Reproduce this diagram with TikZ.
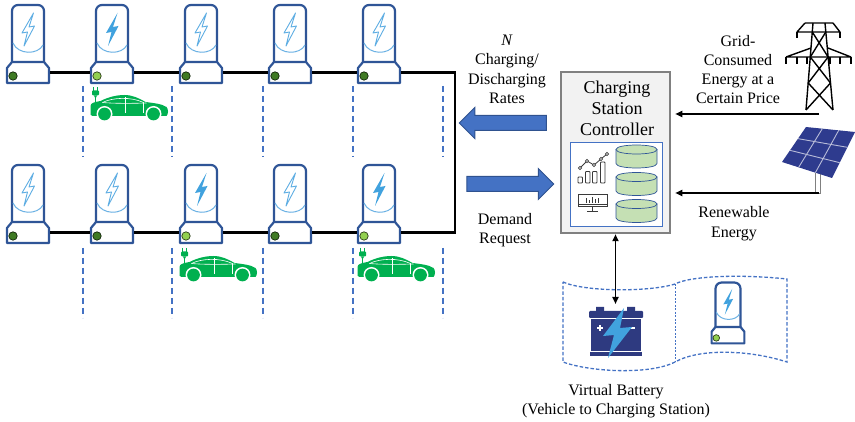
\documentclass[tikz,border=0pt]{standalone}
\usepackage{fontspec}
\setmainfont{Liberation Serif}
\usetikzlibrary{arrows.meta,shapes.arrows,calc}

\definecolor{stblue}{HTML}{2F5597}
\definecolor{boltblue}{HTML}{41A2DE}
\definecolor{boltlight}{HTML}{5FAEE3}
\definecolor{arcblue}{HTML}{6CB2E4}
\definecolor{dotdark}{HTML}{3F7A24}
\definecolor{dotlight}{HTML}{92D050}
\definecolor{cargreen}{HTML}{00B050}
\definecolor{dashblue}{HTML}{4472C4}
\definecolor{arrowfill}{HTML}{4472C4}
\definecolor{arrowedge}{HTML}{2F528F}
\definecolor{ctrlgray}{HTML}{808080}
\definecolor{ctrlfill}{HTML}{F2F2F2}
\definecolor{cylgreen}{HTML}{C5E0B4}
\definecolor{batnavy}{HTML}{2E3A80}
\definecolor{panelblue}{HTML}{2E3B8E}
\definecolor{panelgrid}{HTML}{B8BCD8}
\definecolor{icongray}{HTML}{3A3A3A}

\tikzset{
  stationline/.style={draw=stblue, line width=2.2pt, line join=round},
  boltactive/.style={fill=boltblue},
  boltidle/.style={draw=boltlight, line width=0.9pt, line join=round},
  gapline/.style={dashblue, line width=1.3pt, dash pattern=on 6pt off 4pt},
  wire/.style={black, line width=2.1pt},
  feed/.style={black, line width=1.8pt, -{Triangle[length=7pt,width=6pt]}},
  lbl/.style={align=center, font=\fontsize{16}{19.5}\selectfont, inner sep=0pt},
  blockarrow/.style={single arrow, draw=arrowedge, fill=arrowfill, line width=1pt,
    minimum height=87pt, inner xsep=0pt, inner ysep=7pt,
    single arrow head extend=8pt},
  towerline/.style={black, line width=1.4pt, line join=round},
  iconline/.style={icongray, line width=0.8pt},
  cylinder part/.style={draw=stblue, line width=0.7pt, fill=cylgreen},
  % charging post: origin = centre of the base top edge
  pics/evstation/.style 2 args={code={
    \draw[stationline, fill=white, rounded corners=6pt]
      (-16,1) -- (-16,-57) -- (16,-57) -- (16,1);
    \draw[arcblue, line width=1pt] (-15,-19) .. controls (-10,-7) and (10,-7) .. (15,-17);
    \path[#1] (5.5,-49) -- (-6,-29) -- (-0.5,-30) -- (-4,-16) -- (6.5,-36) -- (1,-35) -- cycle;
    \draw[stationline, fill=white]
      (-21,21) -- (-21,6) -- (-16,0) -- (16,0) -- (21,6) -- (21,21) -- cycle;
    \draw[fill=#2, draw=black!70!#2, line width=0.7pt] (-15,14) circle (4.2);
    \coordinate (-hub) at (0,10.5);
  }},
  % electric car with its plug: origin = top left of the plug
  pics/evcar/.style={code={
    \draw[cargreen, line width=1.3pt] (3,0) -- (3,4) (7,0) -- (7,4);
    \fill[cargreen, rounded corners=1pt] (1.5,3.5) rectangle (8.5,8.5);
    \fill[cargreen] (3.5,8.5) -- (6.5,8.5) -- (5.7,10.5) -- (4.3,10.5) -- cycle;
    \draw[cargreen, line width=1.4pt] (5,10) -- (5,20);
    \fill[cargreen] (0,19) .. controls (0,16) and (4,15) .. (10,14)
      .. controls (18,10) and (26,8) .. (34,8)
      .. controls (42,8) and (48,11) .. (55,15)
      .. controls (63,16) and (72,17) .. (76,20)
      .. controls (78,22) and (78,27) .. (76,29)
      -- (2,29) .. controls (0,28) .. (0,26) -- cycle;
    \draw[white, line width=0.6pt] (12,15.5) .. controls (22,10.5) and (40,9.5) .. (53,15.5) -- (53,26);
    \draw[white, line width=0.6pt] (12,15.5) .. controls (22,16.5) and (40,16.5) .. (56,16);
    \draw[white, line width=0.6pt] (35,10) -- (35,26);
    \fill[white] (14,27) circle (8) (63,27) circle (8);
    \fill[cargreen] (14,27) circle (6.4) (63,27) circle (6.4);
  }}
}

\begin{document}
\begin{tikzpicture}[x=1pt, y=-1pt]
\useasboundingbox (0,0) rectangle (855,422);

% corners of the feeder loop
\coordinate (turnTop) at (455,72.5);
\coordinate (turnBot) at (455,232.5);

% parking bay separators
\foreach \x in {83,172,263,353,443} {
  \draw[gapline] (\x,86) -- (\x,157);
  \draw[gapline] (\x,248) -- (\x,318);
}

% ---------- upper row of posts ----------
\pic (t1) at (28,62)  {evstation={boltidle}{dotdark}};
\pic (t2) at (112,62) {evstation={boltactive}{dotlight}};
\pic (t3) at (201,62) {evstation={boltidle}{dotdark}};
\pic (t4) at (290,62) {evstation={boltidle}{dotdark}};
\pic (t5) at (379,62) {evstation={boltidle}{dotdark}};

% ---------- lower row of posts ----------
\pic (b1) at (28,222)  {evstation={boltidle}{dotdark}};
\pic (b2) at (112,222) {evstation={boltidle}{dotdark}};
\pic (b3) at (201,222) {evstation={boltactive}{dotlight}};
\pic (b4) at (290,222) {evstation={boltidle}{dotdark}};
\pic (b5) at (379,222) {evstation={boltactive}{dotlight}};

% wires between the bases of neighbouring posts
\draw[wire] ($(t1-hub)+(22,0)$) -- ($(t2-hub)+(-22,0)$);
\draw[wire] ($(t2-hub)+(22,0)$) -- ($(t3-hub)+(-22,0)$);
\draw[wire] ($(t3-hub)+(22,0)$) -- ($(t4-hub)+(-22,0)$);
\draw[wire] ($(t4-hub)+(22,0)$) -- ($(t5-hub)+(-22,0)$);
\draw[wire, line join=miter] ($(t5-hub)+(22,0)$) -- (turnTop) -- (turnBot) -- ($(b5-hub)+(22,0)$);
\draw[wire] ($(b5-hub)+(-22,0)$) -- ($(b4-hub)+(22,0)$);
\draw[wire] ($(b4-hub)+(-22,0)$) -- ($(b3-hub)+(22,0)$);
\draw[wire] ($(b3-hub)+(-22,0)$) -- ($(b2-hub)+(22,0)$);
\draw[wire] ($(b2-hub)+(-22,0)$) -- ($(b1-hub)+(22,0)$);

% ---------- parked cars ----------
\pic (car1) at (90.5,87)   {evcar};
\pic (car2) at (179.5,248) {evcar};
\pic (car3) at (357.5,248) {evcar};

% ---------- controller ----------
\node[draw=ctrlgray, fill=ctrlfill, line width=2.5pt,
      minimum width=109pt, minimum height=161pt] (ctrl) at (615.5,152.5) {};
\node[align=center, inner sep=0pt, font=\fontsize{18}{21}\selectfont]
  (ctrlText) at (617,108) {Charging\\Station\\Controller};
\node[draw=dashblue, fill=white, line width=0.9pt,
      minimum width=92pt, minimum height=84pt] (ctrlPanel) at (616,184) {};

% data stores
\foreach \t/\b in {149.5/163.5, 177/191, 204/218} {
  \path[cylinder part] (616,\t) -- (616,\b) .. controls (616,\b+6) and (657,\b+6) .. (657,\b) -- (657,\t) -- cycle;
  \path[cylinder part] (616,\t) .. controls (616,\t-6) and (657,\t-6) .. (657,\t)
        .. controls (657,\t+6) and (616,\t+6) .. (616,\t) -- cycle;
}

% analytics chart
\draw[iconline, rounded corners=0.8pt] (578,177) rectangle (582.5,183);
\draw[iconline, rounded corners=0.8pt] (585.5,171.5) rectangle (590,183);
\draw[iconline, rounded corners=0.8pt] (592.5,171.5) rectangle (597,183);
\draw[iconline, rounded corners=0.8pt] (600.5,162) rectangle (605,183);
\draw[iconline] (580,168) -- (587,161) -- (594,165) -- (601,159) -- (607,154);
\foreach \p in {(580,168),(587,161),(594,165),(601,159),(607,154)}
  \draw[iconline, fill=white] \p circle (1.6);

% monitor
\draw[iconline, line width=1pt] (578,195) rectangle (607,207);
\draw[iconline, line width=1pt] (578,205) -- (607,205);
\draw[iconline, line width=1pt] (592.5,207) -- (592.5,211) (587,212) -- (598,212);
\foreach \x/\h in {586/5,589/3,592/6,595/3.5,598/4.5}
  \draw[iconline, line width=0.7pt] (\x,203) -- (\x,203-\h);

% ---------- block arrows ----------
\node[blockarrow, shape border rotate=180] (ratesArrow) at (506.5,123) {};
\node[blockarrow] (demandArrow) at (506.5,184) {};

\node[lbl] (ratesLbl) at (507,69.5) {\textit{N}\\Charging/\\Discharging\\Rates};
\node[lbl] (demandLbl) at (505,230) {Demand\\Request};

% ---------- transmission tower ----------
\begin{scope}[towerline]
  \draw (805,23) -- (833,23) (805,23) -- (797,32) (833,23) -- (840,32) (797,32) -- (840,32);
  \draw (797,32) -- (797,38) (840,32) -- (840,38);
  \draw (813,23) -- (806,110) (825,23) -- (833,110);
  \draw (811,48) -- (786,57) (828,48) -- (851,57) (786,57) -- (851,57);
  \foreach \x in {786,797,807,830,840,851} \draw (\x,57) -- (\x,64);
  \draw (812.3,32) -- (828.1,57) (825.8,32) -- (810.3,57);
  \draw (810.3,57) -- (830.5,83) (828.1,57) -- (808.2,83);
  \draw (808.2,83) -- (833,110) (830.5,83) -- (806,110);
\end{scope}

% ---------- solar panel ----------
\coordinate (pTL) at (806,127);
\coordinate (pTR) at (855,132);
\coordinate (pBR) at (832,178);
\coordinate (pBL) at (782,162);
\draw[gray, line width=0.8pt, fill=white] (815.5,171) rectangle (820,193);
\fill[panelblue] (pTL) -- (pTR) -- (pBR) -- (pBL) -- cycle;
\foreach \u in {0.333,0.667} {
  \draw[panelgrid, line width=0.9pt] ($(pTL)!\u!(pTR)$) -- ($(pBL)!\u!(pBR)$);
  \draw[panelgrid, line width=0.9pt] ($(pTL)!\u!(pBL)$) -- ($(pTR)!\u!(pBR)$);
}

% ---------- energy supply arrows ----------
\coordinate (gridFeed) at (819,114);
\coordinate (solarFeed) at (819,193);
\draw[feed, shorten >=4pt] (gridFeed) -- (gridFeed -| ctrl.east);
\draw[feed, shorten >=4pt] (solarFeed) -- (solarFeed -| ctrl.east);

\node[align=center, inner sep=0pt, font=\fontsize{16}{19}\selectfont]
  (gridLbl) at (738,70) {Grid-\\Consumed\\Energy at a\\Certain Price};
\node[lbl] (renewLbl) at (734,223.5) {Renewable\\Energy};

% ---------- virtual battery ----------
\draw[dashblue, line width=1.3pt, dash pattern=on 3.5pt off 2pt]
  (563,282) .. controls (585,292) and (650,292) .. (675,284)
  .. controls (690,276) and (740,274) .. (787,279) -- (787,362)
  .. controls (750,350) and (700,348) .. (675,362)
  .. controls (650,375) and (590,372) .. (563,362) -- cycle;
\draw[dashblue, line width=1pt, dash pattern=on 2pt off 1.5pt] (675,284) -- (675,362);

% battery
\fill[batnavy] (596,307) rectangle (604,312) (627,307) rectangle (635,312);
\fill[batnavy, rounded corners=1pt] (589,311) rectangle (643,318);
\fill[batnavy] (591,319) rectangle (641,351);
\fill[batnavy] (590,352) rectangle (642,356);
\draw[white, line width=1.4pt] (597,328) -- (603,328) (600,325) -- (600,331);
\draw[white, line width=1.4pt] (629,328) -- (635,328);
\fill[boltblue] (624,308) -- (603,336) -- (614,335) -- (608,358) -- (632,327) -- (620,328) -- cycle;
\coordinate (batTop) at (615.5,304);

\draw[black, line width=1.8pt, {Triangle[length=7pt,width=6pt]}-{Triangle[length=7pt,width=6pt]}]
  (ctrl.south) -- (batTop);

\pic[scale=0.78] (vst) at (728,327) {evstation={boltactive}{dotlight}};

\node[lbl] (vbLbl) at (616,401) {Virtual Battery\\(Vehicle to Charging Station)};

\end{tikzpicture}
\end{document}
